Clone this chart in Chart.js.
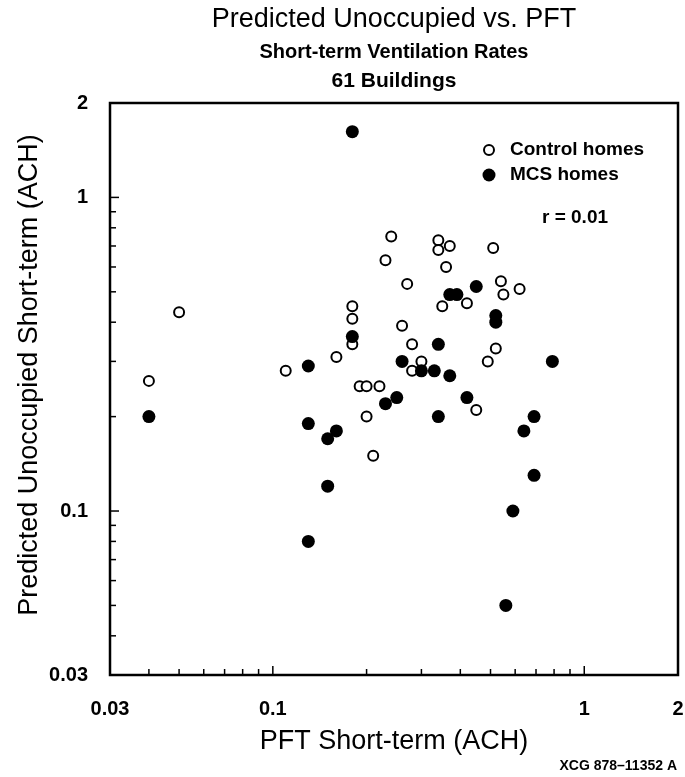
<!DOCTYPE html>
<html>
<head>
<meta charset="utf-8">
<script src="https://cdn.jsdelivr.net/npm/chart.js@4"></script>
<style>
  html, body { margin: 0; padding: 0; background: #fff; }
  #wrap { width: 685px; height: 777px; }
</style>
</head>
<body>
<div id="wrap"><canvas id="chart" width="685" height="777"></canvas></div>
<script>
// Control homes (open circles)
const controlX = [0.24, 0.23, 0.27, 0.05, 0.18, 0.18, 0.18, 0.26, 0.16, 0.11, 0.04, 0.19, 0.20, 0.22, 0.20, 0.21,
                  0.34, 0.34, 0.37, 0.51, 0.36, 0.35, 0.42, 0.54, 0.55, 0.62, 0.28, 0.52, 0.49, 0.30, 0.28, 0.45];
const controlY = [0.75, 0.63, 0.53, 0.43, 0.45, 0.41, 0.34, 0.39, 0.31, 0.28, 0.26, 0.25, 0.25, 0.25, 0.20, 0.15,
                  0.73, 0.68, 0.70, 0.69, 0.60, 0.45, 0.46, 0.54, 0.49, 0.51, 0.34, 0.33, 0.30, 0.30, 0.28, 0.21];

// MCS homes (filled circles)
const mcsX = [0.18, 0.18, 0.26, 0.13, 0.04, 0.23, 0.25, 0.13, 0.16, 0.15, 0.15, 0.13, 0.45, 0.37, 0.39,
              0.52, 0.52, 0.34, 0.79, 0.30, 0.33, 0.37, 0.42, 0.34, 0.69, 0.64, 0.69, 0.59, 0.56];
const mcsY = [1.62, 0.36, 0.30, 0.29, 0.20, 0.22, 0.23, 0.19, 0.18, 0.17, 0.12, 0.08, 0.52, 0.49, 0.49,
              0.42, 0.40, 0.34, 0.30, 0.28, 0.28, 0.27, 0.23, 0.20, 0.20, 0.18, 0.13, 0.10, 0.05];

// axis ticks (log scale), only some get a label
const tickValues = [0.03, 0.04, 0.05, 0.06, 0.07, 0.08, 0.09, 0.1, 0.2, 0.3, 0.4, 0.5, 0.6, 0.7, 0.8, 0.9, 1, 2];
const labelledTicks = [0.03, 0.1, 1, 2];
const majorTicks = [0.1, 1];

const FONT = '"Liberation Sans", Arial, sans-serif';

function toPoints(xs, ys) {
    return xs.map((x, i) => ({ x: x, y: ys[i] }));
}

function tickLabel(value) {
    return labelledTicks.includes(value) ? String(value) : '';
}

// draws frame, inward ticks and all the free text
const decorations = {
    id: 'decorations',
    afterDraw(chart) {
        const ctx = chart.ctx;
        const area = chart.chartArea;
        const xs = chart.scales.x;
        const ys = chart.scales.y;
        ctx.save();
        ctx.strokeStyle = '#000';

        // ticks
        ctx.lineWidth = 1.5;
        tickValues.forEach(v => {
            const len = majorTicks.includes(v) ? 9 : 6;
            const px = xs.getPixelForValue(v);
            ctx.beginPath();
            ctx.moveTo(px, area.bottom);
            ctx.lineTo(px, area.bottom - len);
            ctx.stroke();
            const py = ys.getPixelForValue(v);
            ctx.beginPath();
            ctx.moveTo(area.left, py);
            ctx.lineTo(area.left + len, py);
            ctx.stroke();
        });

        // frame
        ctx.lineWidth = 2.5;
        ctx.strokeRect(area.left, area.top, area.right - area.left, area.bottom - area.top);

        ctx.fillStyle = '#000';
        ctx.textAlign = 'center';
        ctx.textBaseline = 'middle';
        const cx = (area.left + area.right) / 2;

        // titles
        ctx.font = '27px ' + FONT;
        ctx.fillText('Predicted Unoccupied vs. PFT', cx, 20);
        ctx.font = 'bold 20px ' + FONT;
        ctx.fillText('Short-term Ventilation Rates', cx, 52);
        ctx.font = 'bold 21px ' + FONT;
        ctx.fillText('61 Buildings', cx, 81);

        // axis titles
        ctx.font = '27px ' + FONT;
        ctx.fillText('PFT Short-term (ACH)', cx, 742);
        ctx.save();
        ctx.translate(30, 375);
        ctx.rotate(-Math.PI / 2);
        ctx.fillText('Predicted Unoccupied Short-term (ACH)', 0, 0);
        ctx.restore();

        // legend
        const legendItems = [
            { text: 'Control homes', ds: chart.data.datasets[1], y: 150 },
            { text: 'MCS homes', ds: chart.data.datasets[0], y: 175 }
        ];
        ctx.font = 'bold 19px ' + FONT;
        ctx.textAlign = 'left';
        legendItems.forEach(item => {
            ctx.beginPath();
            ctx.arc(489, item.y, item.ds.pointRadius, 0, Math.PI * 2);
            ctx.fillStyle = item.ds.backgroundColor;
            ctx.fill();
            if (item.ds.borderWidth) {
                ctx.lineWidth = item.ds.borderWidth;
                ctx.strokeStyle = item.ds.borderColor;
                ctx.stroke();
            }
            ctx.fillStyle = '#000';
            ctx.fillText(item.text, 510, item.y);
        });

        // correlation
        ctx.fillText('r = 0.01', 542, 218);

        // figure id
        ctx.font = 'bold 14px ' + FONT;
        ctx.textAlign = 'right';
        ctx.fillText('XCG 878\u201311352 A', 677, 766);

        ctx.restore();
    }
};

const ctx = document.getElementById('chart').getContext('2d');
new Chart(ctx, {
    type: 'scatter',
    data: {
        datasets: [
            {
                label: 'MCS homes',
                data: toPoints(mcsX, mcsY),
                pointRadius: 6.5,
                pointHoverRadius: 6.5,
                backgroundColor: '#000',
                borderColor: '#000',
                borderWidth: 0,
                order: 0
            },
            {
                label: 'Control homes',
                data: toPoints(controlX, controlY),
                pointRadius: 5,
                pointHoverRadius: 5,
                backgroundColor: '#fff',
                borderColor: '#000',
                borderWidth: 2,
                order: 1
            }
        ]
    },
    options: {
        responsive: false,
        animation: false,
        layout: {
            padding: { top: 103, right: 7, left: 0, bottom: 0 }
        },
        plugins: {
            legend: { display: false },
            title: { display: false },
            tooltip: { enabled: false }
        },
        scales: {
            x: {
                type: 'logarithmic',
                min: 0.03,
                max: 2,
                grid: { display: false },
                border: { display: false },
                afterBuildTicks: scale => { scale.ticks = tickValues.map(v => ({ value: v })); },
                afterFit: scale => {
                    scale.height = 102;
                    scale.paddingLeft = 0;
                    scale.paddingRight = 0;
                },
                ticks: {
                    autoSkip: false,
                    maxRotation: 0,
                    padding: 14,
                    color: '#000',
                    font: { family: FONT, size: 20, weight: 'bold' },
                    callback: value => tickLabel(value)
                }
            },
            y: {
                type: 'logarithmic',
                min: 0.03,
                max: 2,
                grid: { display: false },
                border: { display: false },
                afterBuildTicks: scale => { scale.ticks = tickValues.map(v => ({ value: v })); },
                afterFit: scale => {
                    scale.width = 110;
                    scale.paddingTop = 0;
                    scale.paddingBottom = 0;
                },
                ticks: {
                    autoSkip: false,
                    padding: 14,
                    color: '#000',
                    font: { family: FONT, size: 20, weight: 'bold' },
                    callback: value => tickLabel(value)
                }
            }
        }
    },
    plugins: [decorations]
});
</script>
</body>
</html>
